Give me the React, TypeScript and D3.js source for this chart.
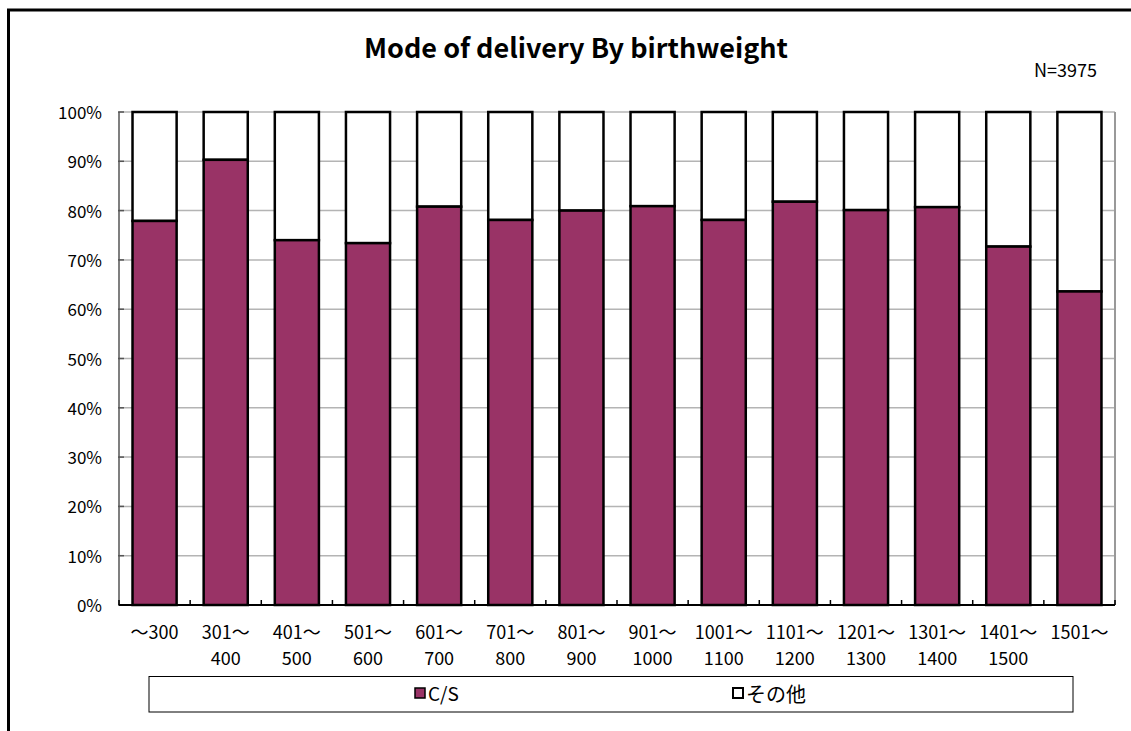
import React from "react";
import * as d3 from "d3";

const categories: string[][] = [
  ["～300", ""],
  ["301～", "400"],
  ["401～", "500"],
  ["501～", "600"],
  ["601～", "700"],
  ["701～", "800"],
  ["801～", "900"],
  ["901～", "1000"],
  ["1001～", "1100"],
  ["1101～", "1200"],
  ["1201～", "1300"],
  ["1301～", "1400"],
  ["1401～", "1500"],
  ["1501～", ""],
];
const csValues: number[] = [77.9, 90.3, 74.0, 73.4, 80.8, 78.1, 80.0, 80.9, 78.1, 81.8, 80.1, 80.7, 72.7, 63.6];
const yTicks: number[] = [0, 10, 20, 30, 40, 50, 60, 70, 80, 90, 100];
const seriesNames: string[] = ["C/S", "その他"];
const title = "Mode of delivery By birthweight";
const nLabel = "N=3975";

const W = 1131;
const H = 731;
const FONT = "'Noto Sans CJK JP', 'Noto Sans', sans-serif";

export default function App() {
  const left = 119, right = 1115, top = 112, bottom = 605;
  const x = d3.scaleBand<number>().domain(d3.range(categories.length)).range([left, right]).paddingInner(0.38).paddingOuter(0.19);
  const y = d3.scaleLinear().domain([0, 100]).range([bottom, top]);
  const step = (right - left) / categories.length;
  const bandStart = (i: number) => left + i * step;

  return (
    <svg width={W} height={H} style={{ position: "absolute", left: 0, top: 0, background: "#fff" }} fontFamily={FONT}>
      <rect x={0} y={0} width={W} height={H} fill="#fff" />
      {/* frame */}
      <line x1={7} y1={10} x2={W + 5} y2={10} stroke="#000" strokeWidth={3} />
      <line x1={8.5} y1={9} x2={8.5} y2={H + 5} stroke="#000" strokeWidth={3} />

      <text x={576} y={58} textAnchor="middle" fontSize={27} fontWeight="bold" fill="#000">{title}</text>
      <text x={1097} y={77} textAnchor="end" fontSize={18} fill="#000">{nLabel}</text>

      {/* gridlines */}
      {yTicks.map((t) => (
        <line key={"g" + t} x1={left} x2={right} y1={y(t)} y2={y(t)} stroke="#b4b4b4" strokeWidth={1.5} />
      ))}
      <line x1={right} x2={right} y1={top} y2={bottom} stroke="#999" strokeWidth={2} />
      {/* y axis */}
      <line x1={left} x2={left} y1={top} y2={bottom} stroke="#555" strokeWidth={1.5} />
      {yTicks.map((t) => (
        <g key={"t" + t}>
          <line x1={left - 1} x2={left + 5} y1={y(t)} y2={y(t)} stroke="#555" strokeWidth={1.5} />
          <text x={102} y={y(t) + 7} textAnchor="end" fontSize={17} fill="#000">{t + "%"}</text>
        </g>
      ))}

      {/* bars */}
      {csValues.map((v, i) => (
        <g key={"b" + i}>
          <rect x={x(i)} y={y(100)} width={x.bandwidth()} height={y(v) - y(100)} fill="#fff" stroke="#000" strokeWidth={2.5} />
          <rect x={x(i)} y={y(v)} width={x.bandwidth()} height={y(0) - y(v)} fill="#993366" stroke="#000" strokeWidth={2.5} />
        </g>
      ))}

      {/* x axis */}
      <line x1={left} x2={right} y1={bottom} y2={bottom} stroke="#000" strokeWidth={2} />
      {d3.range(categories.length + 1).map((i) => (
        <line key={"xt" + i} x1={bandStart(i)} x2={bandStart(i)} y1={bottom} y2={bottom - 5} stroke="#000" strokeWidth={1.5} />
      ))}
      {categories.map((c, i) => (
        <g key={"l" + i}>
          <text x={bandStart(i) + step / 2} y={639} textAnchor="middle" fontSize={18} fill="#000">{c[0]}</text>
          <text x={bandStart(i) + step / 2} y={665} textAnchor="middle" fontSize={18} fill="#000">{c[1]}</text>
        </g>
      ))}

      {/* legend */}
      <rect x={149} y={676.5} width={924} height={35.5} fill="#fff" stroke="#000" strokeWidth={1} />
      <rect x={415} y={688} width={10} height={10} fill="#993366" stroke="#000" strokeWidth={1.5} />
      <text x={428} y={701} fontSize={19} fill="#000">{seriesNames[0]}</text>
      <rect x={733} y={688} width={10} height={10} fill="#fff" stroke="#000" strokeWidth={2} />
      <text x={746} y={702} fontSize={20} fill="#000">{seriesNames[1]}</text>
    </svg>
  );
}
